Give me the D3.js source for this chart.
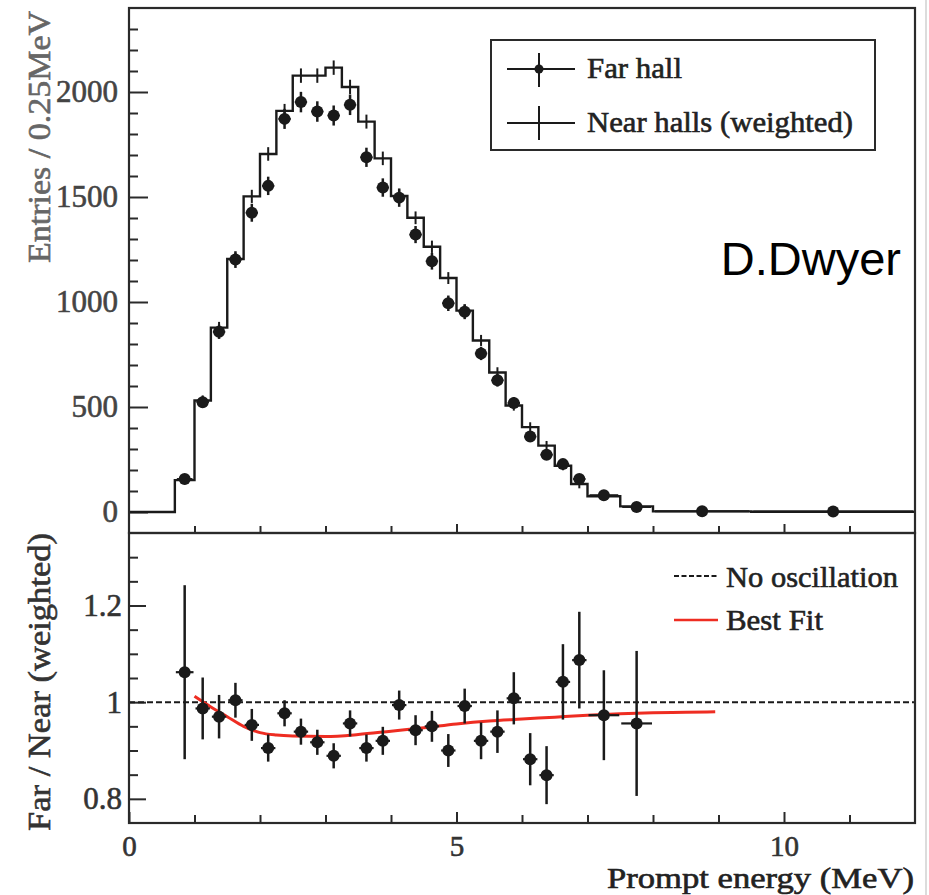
<!DOCTYPE html>
<html>
<head>
<meta charset="utf-8">
<script src="https://cdn.jsdelivr.net/npm/d3@7"></script>
<style>
  html, body { margin: 0; padding: 0; background: #fff; }
  svg { display: block; }
</style>
</head>
<body>
<svg id="chart" width="929" height="895"></svg>
<script>
// ---------------- DATA ----------------
// Bin edges (MeV) of the prompt-energy histogram
const binEdges = [0.0, 0.7, 1.0, 1.25, 1.5, 1.75, 2.0, 2.25, 2.5, 2.75, 3.0, 3.25, 3.5, 3.75,
  4.0, 4.25, 4.5, 4.75, 5.0, 5.25, 5.5, 5.75, 6.0, 6.25, 6.5, 6.75, 7.0, 7.5, 8.0, 9.5, 12.0];

// Near halls (weighted) histogram contents, one per bin (first bin 0-0.7 empty)
const nearValues = [0, 152, 531, 878, 1205, 1503, 1705, 1910, 2078, 2078, 2116, 2024, 1859, 1684,
  1505, 1401, 1263, 1114, 959, 817, 664, 507, 404, 316, 220, 133, 75, 27, 3, 1];
const nearErrors = [0, 6, 10, 13, 15, 17, 18, 19, 20, 20, 20, 20, 19, 18,
  17, 16, 15, 14, 13, 12, 11, 10, 9, 8, 7, 6, 4, 3, 1, 1];

// Far hall data points, one per bin (first bin 0-0.7 empty)
const farValues = [null, 157, 523, 858, 1202, 1425, 1553, 1872, 1952, 1907, 1888, 1939, 1689, 1545,
  1497, 1321, 1194, 994, 954, 755, 627, 519, 359, 273, 228, 157, 80, 24, 4, 2];
const farErrors = [0, 13, 23, 29, 35, 38, 39, 43, 44, 44, 43, 44, 41, 39,
  39, 36, 35, 32, 31, 27, 25, 23, 19, 17, 15, 13, 9, 5, 2, 1.5];

// Far / Near ratio, bins 0.7 ... 8.0
const ratioValues = [1.062, 0.987, 0.970, 1.004, 0.953, 0.905, 0.977, 0.939, 0.917, 0.889, 0.956, 0.905, 0.920,
  0.994, 0.942, 0.950, 0.900, 0.992, 0.920, 0.939, 1.008, 0.882, 0.849, 1.042, 1.087, 0.973, 0.956];
const ratioErrors = [0.180, 0.064, 0.045, 0.036, 0.033, 0.028, 0.027, 0.027, 0.026, 0.026, 0.027, 0.028, 0.029,
  0.030, 0.031, 0.032, 0.034, 0.036, 0.038, 0.044, 0.054, 0.054, 0.060, 0.078, 0.100, 0.093, 0.150];

// Best fit curve
const fitEnergy = [1.0, 1.25, 1.5, 1.75, 2.0, 2.25, 2.5, 3.0, 3.5, 4.0, 4.5, 5.0, 5.5, 6.0, 6.5, 7.0, 7.5, 8.0, 8.5, 8.95];
const fitRatio  = [1.012, 0.990, 0.970, 0.950, 0.937, 0.932, 0.930, 0.929, 0.933, 0.940, 0.947, 0.955, 0.961, 0.965, 0.969, 0.973, 0.976, 0.978, 0.979, 0.980];

// Tick labels
const xTickValues = [0, 5, 10];
const xTickLabels = ["0", "5", "10"];
const topTickValues = [0, 500, 1000, 1500, 2000];
const topTickLabels = ["0", "500", "1000", "1500", "2000"];
const botTickValues = [0.8, 1.0, 1.2];
const botTickLabels = ["0.8", "1", "1.2"];

// ---------------- LAYOUT ----------------
const L = 129, R = 915, T = 8, MID = 533, B = 823;
const svg = d3.select("#chart");
const serif = "'Liberation Serif', 'Times New Roman', serif";
const ink = "#1a1a1a";

const x = d3.scaleLinear().domain([0, 12]).range([L, R]);
const yTop = d3.scaleLinear().domain([-100, 2400]).range([MID, T]);
const yBot = d3.scaleLinear().domain([0.75, 1.35]).range([B, MID]);

// faint border line at right edge of image
svg.append("line").attr("x1", 926).attr("x2", 926).attr("y1", 0).attr("y2", 895)
  .attr("stroke", "#d0d0d0").attr("stroke-width", 1.5);

function heavy(sel, color) {
  sel.attr("fill", color).attr("stroke", color).attr("stroke-width", 0.6);
}

// ---------- axes helpers ----------
function styleAxis(g) {
  g.select(".domain").remove();
  g.selectAll(".tick line").attr("stroke", "#2a2a2a").attr("stroke-width", 2);
}

// Top panel y axis
const topMinor = d3.range(0, 2400, 100).filter(v => v % 500 !== 0);
svg.append("g").attr("transform", `translate(${L},0)`)
  .call(d3.axisLeft(yTop).tickValues(topMinor).tickSizeInner(-9).tickSizeOuter(0).tickFormat(""))
  .call(styleAxis);
svg.append("g").attr("transform", `translate(${L},0)`)
  .call(d3.axisLeft(yTop).tickValues(topTickValues).tickSizeInner(-19).tickSizeOuter(0).tickPadding(11)
    .tickFormat((d, i) => topTickLabels[i]))
  .call(styleAxis)
  .call(g => g.selectAll("text").attr("font-family", serif).attr("font-size", 31).call(heavy, "#444"));

// Bottom panel y axis
const botMinor = d3.range(0.75, 1.351, 0.05).map(v => +v.toFixed(2)).filter(v => ![0.8, 1.0, 1.2].includes(v) && v > 0.75 && v < 1.35);
svg.append("g").attr("transform", `translate(${L},0)`)
  .call(d3.axisLeft(yBot).tickValues(botMinor).tickSizeInner(-9).tickSizeOuter(0).tickFormat(""))
  .call(styleAxis);
svg.append("g").attr("transform", `translate(${L},0)`)
  .call(d3.axisLeft(yBot).tickValues(botTickValues).tickSizeInner(-17).tickSizeOuter(0).tickPadding(7)
    .tickFormat((d, i) => botTickLabels[i]))
  .call(styleAxis)
  .call(g => g.selectAll("text").attr("font-family", serif).attr("font-size", 31).call(heavy, "#333"));

// X axes (ticks pointing up) for both panels
const xMinor = d3.range(1, 12).filter(v => v % 5 !== 0);
svg.append("g").attr("transform", `translate(0,${MID})`)
  .call(d3.axisBottom(x).tickValues(xMinor).tickSizeInner(-7).tickSizeOuter(0).tickFormat(""))
  .call(styleAxis);
svg.append("g").attr("transform", `translate(0,${MID})`)
  .call(d3.axisBottom(x).tickValues([5, 10]).tickSizeInner(-9).tickSizeOuter(0).tickFormat(""))
  .call(styleAxis);
svg.append("g").attr("transform", `translate(0,${B})`)
  .call(d3.axisBottom(x).tickValues(xMinor).tickSizeInner(-8).tickSizeOuter(0).tickFormat(""))
  .call(styleAxis);
svg.append("g").attr("transform", `translate(0,${B})`)
  .call(d3.axisBottom(x).tickValues(xTickValues).tickSizeInner(-11).tickSizeOuter(0).tickPadding(12.5)
    .tickFormat((d, i) => xTickLabels[i]))
  .call(styleAxis)
  .call(g => g.selectAll("text").attr("font-family", serif).attr("font-size", 29).call(heavy, "#333"));

// ---------- Top panel: near histogram ----------
const stepPts = binEdges.slice(0, -1).map((e, i) => [e, nearValues[i]]);
stepPts.push([binEdges[binEdges.length - 1], nearValues[nearValues.length - 1]]);
svg.append("path")
  .attr("d", d3.line().x(d => x(d[0])).y(d => yTop(d[1])).curve(d3.curveStepAfter)(stepPts))
  .attr("fill", "none").attr("stroke", ink).attr("stroke-width", 2.4);

// near error ticks
const binIdx = d3.range(1, binEdges.length - 1);
svg.append("g").selectAll("line").data(binIdx.filter(i => binEdges[i] < 8)).join("line")
  .attr("x1", i => x((binEdges[i] + binEdges[i + 1]) / 2))
  .attr("x2", i => x((binEdges[i] + binEdges[i + 1]) / 2))
  .attr("y1", i => yTop(nearValues[i] + nearErrors[i]) - 3)
  .attr("y2", i => yTop(nearValues[i] - nearErrors[i]) + 3)
  .attr("stroke", ink).attr("stroke-width", 2);

// far points
const farG = svg.append("g");
binIdx.forEach(i => {
  const cx = x((binEdges[i] + binEdges[i + 1]) / 2);
  const v = farValues[i];
  farG.append("line").attr("x1", x(binEdges[i]) + 2).attr("x2", x(binEdges[i + 1]) - 2)
    .attr("y1", yTop(v)).attr("y2", yTop(v)).attr("stroke", ink).attr("stroke-width", 2);
  farG.append("line").attr("x1", cx).attr("x2", cx)
    .attr("y1", yTop(v + farErrors[i]) - 1).attr("y2", yTop(v - farErrors[i]) + 1)
    .attr("stroke", ink).attr("stroke-width", 2.5);
  farG.append("circle").attr("cx", cx).attr("cy", yTop(v)).attr("r", 6).attr("fill", ink);
});

// ---------- Bottom panel ----------
// dashed no-oscillation line
svg.append("line").attr("x1", x(0)).attr("x2", x(12)).attr("y1", yBot(1)).attr("y2", yBot(1))
  .attr("stroke", ink).attr("stroke-width", 2).attr("stroke-dasharray", "6,3");

// best fit
svg.append("path")
  .attr("d", d3.line().x((d, i) => x(fitEnergy[i])).y(d => yBot(d)).curve(d3.curveMonotoneX)(fitRatio))
  .attr("fill", "none").attr("stroke", "#ee2d22").attr("stroke-width", 3);

// ratio points
const ratG = svg.append("g");
ratioValues.forEach((v, k) => {
  const i = k + 1;
  const cx = x((binEdges[i] + binEdges[i + 1]) / 2);
  ratG.append("line").attr("x1", x(binEdges[i]) + 1).attr("x2", x(binEdges[i + 1]) - 1)
    .attr("y1", yBot(v)).attr("y2", yBot(v)).attr("stroke", ink).attr("stroke-width", 2.2);
  ratG.append("line").attr("x1", cx).attr("x2", cx)
    .attr("y1", yBot(v + ratioErrors[k])).attr("y2", yBot(v - ratioErrors[k]))
    .attr("stroke", ink).attr("stroke-width", 2.5);
  ratG.append("circle").attr("cx", cx).attr("cy", yBot(v)).attr("r", 6).attr("fill", ink);
});

// ---------- Frames ----------
svg.append("rect").attr("x", L).attr("y", T).attr("width", R - L).attr("height", MID - T)
  .attr("fill", "none").attr("stroke", "#2a2a2a").attr("stroke-width", 2.2);
svg.append("rect").attr("x", L).attr("y", MID).attr("width", R - L).attr("height", B - MID)
  .attr("fill", "none").attr("stroke", "#2a2a2a").attr("stroke-width", 2.2);

// ---------- Titles ----------
svg.append("text").attr("transform", "translate(50,137) rotate(-90)")
  .attr("text-anchor", "middle").attr("font-family", serif).attr("font-size", 31)
  .attr("textLength", 252).attr("lengthAdjust", "spacingAndGlyphs")
  .call(heavy, "#666")
  .text("Entries / 0.25MeV");
svg.append("text").attr("transform", "translate(50,682) rotate(-90)")
  .attr("text-anchor", "middle").attr("font-family", serif).attr("font-size", 31)
  .attr("textLength", 298).attr("lengthAdjust", "spacingAndGlyphs")
  .call(heavy, "#333")
  .text("Far / Near (weighted)");
svg.append("text").attr("x", 607).attr("y", 888)
  .attr("font-family", serif).attr("font-size", 29)
  .attr("textLength", 307).attr("lengthAdjust", "spacingAndGlyphs")
  .call(heavy, "#222")
  .text("Prompt energy (MeV)");

// ---------- Top legend ----------
const lg = svg.append("g");
lg.append("rect").attr("x", 491).attr("y", 40).attr("width", 384).attr("height", 110)
  .attr("fill", "#fff").attr("stroke", "#2a2a2a").attr("stroke-width", 2);
lg.append("line").attr("x1", 507).attr("x2", 575).attr("y1", 69).attr("y2", 69).attr("stroke", ink).attr("stroke-width", 2);
lg.append("line").attr("x1", 539).attr("x2", 539).attr("y1", 53).attr("y2", 87).attr("stroke", ink).attr("stroke-width", 2);
lg.append("circle").attr("cx", 539).attr("cy", 69).attr("r", 4.5).attr("fill", ink);
lg.append("text").attr("x", 587).attr("y", 78).attr("font-family", serif).attr("font-size", 30)
  .attr("textLength", 95).attr("lengthAdjust", "spacingAndGlyphs").call(heavy, "#222").text("Far hall");
lg.append("line").attr("x1", 507).attr("x2", 575).attr("y1", 123).attr("y2", 123).attr("stroke", ink).attr("stroke-width", 2);
lg.append("line").attr("x1", 539).attr("x2", 539).attr("y1", 106).attr("y2", 140).attr("stroke", ink).attr("stroke-width", 2);
lg.append("text").attr("x", 587).attr("y", 132).attr("font-family", serif).attr("font-size", 30)
  .attr("textLength", 266).attr("lengthAdjust", "spacingAndGlyphs").call(heavy, "#222").text("Near halls (weighted)");

svg.append("text").attr("x", 901).attr("y", 275).attr("text-anchor", "end")
  .attr("font-family", "'Liberation Sans', Arial, sans-serif").attr("font-size", 47).attr("fill", "#000")
  .text("D.Dwyer");

// ---------- Bottom legend ----------
const bl = svg.append("g");
bl.append("line").attr("x1", 674).attr("x2", 718).attr("y1", 576).attr("y2", 576)
  .attr("stroke", ink).attr("stroke-width", 2).attr("stroke-dasharray", "5,2.5");
bl.append("text").attr("x", 726).attr("y", 587).attr("font-family", serif).attr("font-size", 30)
  .attr("textLength", 172).attr("lengthAdjust", "spacingAndGlyphs").call(heavy, "#222").text("No oscillation");
bl.append("line").attr("x1", 674).attr("x2", 718).attr("y1", 620).attr("y2", 620)
  .attr("stroke", "#ee2d22").attr("stroke-width", 2.5);
bl.append("text").attr("x", 726).attr("y", 630).attr("font-family", serif).attr("font-size", 30)
  .attr("textLength", 97).attr("lengthAdjust", "spacingAndGlyphs").call(heavy, "#222").text("Best Fit");
</script>
</body>
</html>
